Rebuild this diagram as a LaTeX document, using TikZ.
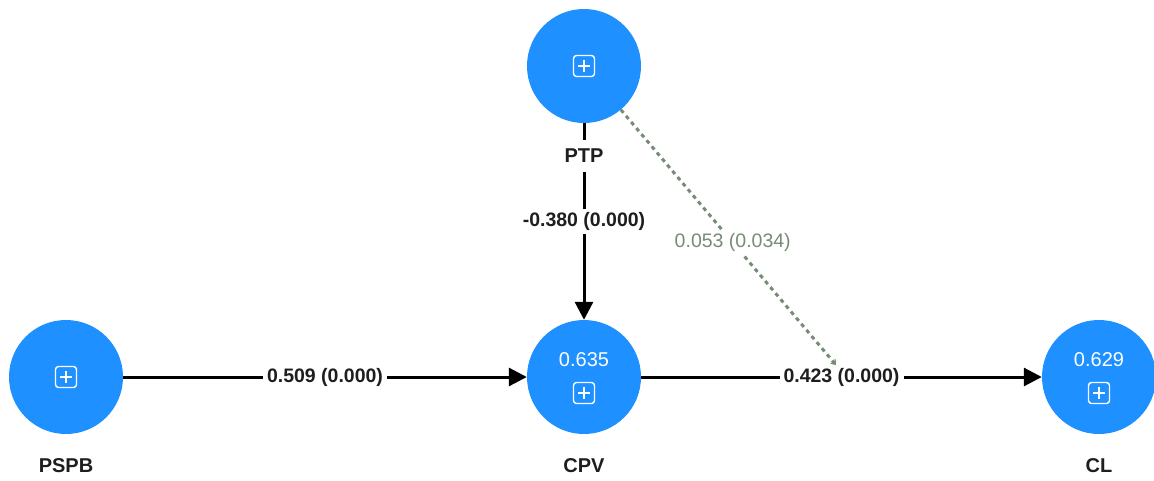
\documentclass[tikz,border=0pt]{standalone}
\usepackage{fontspec}
\setmainfont{Liberation Sans}
\usetikzlibrary{arrows.meta,backgrounds}
\definecolor{nodeblue}{RGB}{30,144,255}
\definecolor{modgreen}{RGB}{118,140,116}
\definecolor{labelgray}{RGB}{30,30,30}
\begin{document}
\begin{tikzpicture}[x=1pt,y=-1pt,
  latent/.style={circle,fill=nodeblue,minimum size=114pt,inner sep=0pt},
  namelabel/.style={font=\fontsize{20}{24}\selectfont\bfseries,text=labelgray,fill=white,inner xsep=4pt,inner ysep=9pt},
  valtext/.style={font=\fontsize{20}{24}\selectfont,text=white,inner sep=0pt},
  pathlabel/.style={font=\fontsize{19.5}{22}\selectfont\bfseries,text=labelgray,fill=white,inner xsep=4pt,inner ysep=3pt},
  modlabel/.style={font=\fontsize{19.5}{22}\selectfont,text=modgreen,fill=white,inner xsep=3pt,inner ysep=3pt},
  conn/.style={draw=black,line width=3pt,-{Triangle[length=18pt,width=18pt]}},
  modline/.style={draw=modgreen,line width=3pt,dash pattern=on 4pt off 4pt,-{Straight Barb[length=4pt,width=6pt,line width=1.2pt]}},
  plusbox/.pic={
    \draw[white,line width=1.4pt,rounded corners=3pt] (-10.5,-10.5) rectangle (10.5,10.5);
    \draw[white,line width=1.4pt] (-6,0) -- (6,0) (0,-6) -- (0,6);
  }
]
\useasboundingbox (0,0) rectangle (1154,480);

% latent variables
\node[latent] (PTP) at (584,66) {};
\node[latent] (PSPB) at (66,377) {};
\node[latent] (CPV) at (584,377) {};
\node[latent] (CL) at (1099,377) {};

\pic at (584,66) {plusbox};
\pic at (66,377) {plusbox};
\pic at (584,393) {plusbox};
\pic at (1099,393) {plusbox};

\node[valtext] (CPVr) at (584,360) {0.635};
\node[valtext] (CLr) at (1099,360) {0.629};

% names
\node[namelabel] (PTPl) at (584,156) {PTP};
\node[namelabel] (PSPBl) at (66,466) {PSPB};
\node[namelabel] (CPVl) at (584,466) {CPV};
\node[namelabel] (CLl) at (1099,466) {CL};

\coordinate (modend) at (836,365);

\begin{scope}[on background layer]
  \draw[conn] (PTP) -- node[pathlabel] {-0.380 (0.000)} (CPV);
  \draw[conn] (PSPB) -- node[pathlabel] {0.509 (0.000)} (CPV);
  \draw[conn] (CPV) -- node[pathlabel] {0.423 (0.000)} (CL);
  \draw[modline] (PTP) -- node[modlabel,pos=0.52] {0.053 (0.034)} (modend);
\end{scope}
\end{tikzpicture}
\end{document}
